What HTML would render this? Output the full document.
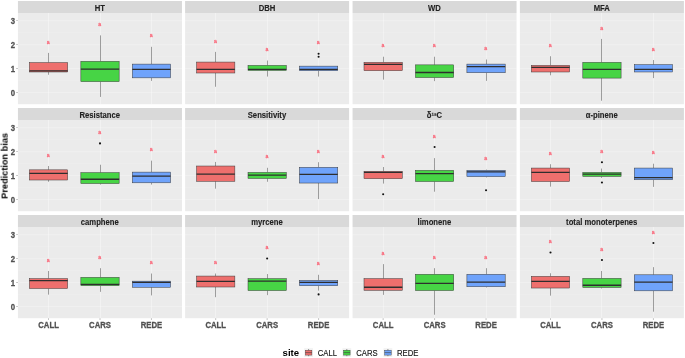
<!DOCTYPE html>
<html><head><meta charset="utf-8"><title>Prediction bias</title>
<style>
html,body{margin:0;padding:0;background:#fff;}
svg{display:block;}
text{font-family:"Liberation Sans","DejaVu Sans",sans-serif;}
.strip{font-size:7.7px;font-weight:bold;fill:#222;text-anchor:middle;stroke:#222;stroke-width:0.1px;}
.ax{font-size:7.75px;font-weight:bold;fill:#505050;stroke:#505050;stroke-width:0.25px;}
.lab{font-size:5.2px;fill:#fb5a6e;stroke:#fb5a6e;stroke-width:0.22px;opacity:0.95;text-anchor:middle;}
.leg{font-size:7.7px;fill:#111;stroke:#111;stroke-width:0.12px;}
</style></head><body>
<svg width="685" height="358" viewBox="0 0 685 358">
<defs><filter id="soft" x="0" y="0" width="685" height="358" filterUnits="userSpaceOnUse" color-interpolation-filters="sRGB"><feGaussianBlur stdDeviation="0.2 0.4"/></filter></defs>
<rect width="685" height="358" fill="#ffffff"/>
<g filter="url(#soft)">
<rect width="685" height="358" fill="#ffffff"/>
<g transform="translate(17.95,13.00)">
<rect x="0" y="-12.00" width="164.0" height="12.0" fill="#d9d9d9"/>
<rect x="0" y="0" width="164.0" height="91.2" fill="#ebebeb"/>
<line x1="0" x2="164.0" y1="19.66" y2="19.66" stroke="#fff" stroke-width="0.35" opacity="0.3"/>
<line x1="0" x2="164.0" y1="43.57" y2="43.57" stroke="#fff" stroke-width="0.35" opacity="0.3"/>
<line x1="0" x2="164.0" y1="67.47" y2="67.47" stroke="#fff" stroke-width="0.35" opacity="0.3"/>
<line x1="0" x2="164.0" y1="7.70" y2="7.70" stroke="#fff" stroke-width="0.8" opacity="0.34"/>
<line x1="0" x2="164.0" y1="31.61" y2="31.61" stroke="#fff" stroke-width="0.8" opacity="0.34"/>
<line x1="0" x2="164.0" y1="55.52" y2="55.52" stroke="#fff" stroke-width="0.8" opacity="0.34"/>
<line x1="0" x2="164.0" y1="79.43" y2="79.43" stroke="#fff" stroke-width="0.8" opacity="0.34"/>
<line y1="0" y2="91.2" x1="30.55" x2="30.55" stroke="#fff" stroke-width="0.7" opacity="0.45"/>
<line y1="0" y2="91.2" x1="82.55" x2="82.55" stroke="#fff" stroke-width="0.7" opacity="0.45"/>
<line y1="0" y2="91.2" x1="133.55" x2="133.55" stroke="#fff" stroke-width="0.7" opacity="0.45"/>
<text class="strip" transform="translate(81.85,-2.3) scale(1,1.1)">HT</text>
<line x1="30.55" x2="30.55" y1="39.92" y2="49.58" stroke="#3a3a3a" stroke-width="0.47"/>
<line x1="30.55" x2="30.55" y1="58.99" y2="61.79" stroke="#3a3a3a" stroke-width="0.47"/>
<rect x="11.45" y="49.58" width="38.30" height="9.41" fill="#EE6F6D" stroke="#3a3a3a" stroke-width="0.5"/>
<line x1="11.45" x2="49.75" y1="57.97" y2="57.97" stroke="#2e2e2e" stroke-width="1.3"/>
<text class="lab" transform="translate(30.30,30.59) scale(1,1.18)">a</text>
<line x1="82.55" x2="82.55" y1="22.38" y2="48.31" stroke="#3a3a3a" stroke-width="0.47"/>
<line x1="82.55" x2="82.55" y1="68.65" y2="83.91" stroke="#3a3a3a" stroke-width="0.47"/>
<rect x="62.90" y="48.31" width="38.30" height="20.34" fill="#47D445" stroke="#3a3a3a" stroke-width="0.5"/>
<line x1="62.90" x2="101.20" y1="56.19" y2="56.19" stroke="#2e2e2e" stroke-width="1.3"/>
<text class="lab" transform="translate(81.75,13.04) scale(1,1.18)">a</text>
<line x1="133.55" x2="133.55" y1="33.82" y2="51.11" stroke="#3a3a3a" stroke-width="0.47"/>
<line x1="133.55" x2="133.55" y1="64.84" y2="67.89" stroke="#3a3a3a" stroke-width="0.47"/>
<rect x="114.35" y="51.11" width="38.30" height="13.73" fill="#6FA3FB" stroke="#3a3a3a" stroke-width="0.5"/>
<line x1="114.35" x2="152.65" y1="56.45" y2="56.45" stroke="#2e2e2e" stroke-width="1.3"/>
<text class="lab" transform="translate(133.20,24.48) scale(1,1.18)">a</text>
<line x1="-1.8" x2="0" y1="7.70" y2="7.70" stroke="#333" stroke-width="0.5" opacity="0.6"/>
<text class="ax" text-anchor="end" transform="translate(-3,11.40) scale(1,1.1)">3</text>
<line x1="-1.8" x2="0" y1="31.61" y2="31.61" stroke="#333" stroke-width="0.5" opacity="0.6"/>
<text class="ax" text-anchor="end" transform="translate(-3,35.31) scale(1,1.1)">2</text>
<line x1="-1.8" x2="0" y1="55.52" y2="55.52" stroke="#333" stroke-width="0.5" opacity="0.6"/>
<text class="ax" text-anchor="end" transform="translate(-3,59.22) scale(1,1.1)">1</text>
<line x1="-1.8" x2="0" y1="79.43" y2="79.43" stroke="#333" stroke-width="0.5" opacity="0.6"/>
<text class="ax" text-anchor="end" transform="translate(-3,83.13) scale(1,1.1)">0</text>
</g>
<g transform="translate(185.10,13.00)">
<rect x="0" y="-12.00" width="164.0" height="12.0" fill="#d9d9d9"/>
<rect x="0" y="0" width="164.0" height="91.2" fill="#ebebeb"/>
<line x1="0" x2="164.0" y1="19.66" y2="19.66" stroke="#fff" stroke-width="0.35" opacity="0.3"/>
<line x1="0" x2="164.0" y1="43.57" y2="43.57" stroke="#fff" stroke-width="0.35" opacity="0.3"/>
<line x1="0" x2="164.0" y1="67.47" y2="67.47" stroke="#fff" stroke-width="0.35" opacity="0.3"/>
<line x1="0" x2="164.0" y1="7.70" y2="7.70" stroke="#fff" stroke-width="0.8" opacity="0.34"/>
<line x1="0" x2="164.0" y1="31.61" y2="31.61" stroke="#fff" stroke-width="0.8" opacity="0.34"/>
<line x1="0" x2="164.0" y1="55.52" y2="55.52" stroke="#fff" stroke-width="0.8" opacity="0.34"/>
<line x1="0" x2="164.0" y1="79.43" y2="79.43" stroke="#fff" stroke-width="0.8" opacity="0.34"/>
<line y1="0" y2="91.2" x1="30.40" x2="30.40" stroke="#fff" stroke-width="0.7" opacity="0.45"/>
<line y1="0" y2="91.2" x1="82.40" x2="82.40" stroke="#fff" stroke-width="0.7" opacity="0.45"/>
<line y1="0" y2="91.2" x1="133.40" x2="133.40" stroke="#fff" stroke-width="0.7" opacity="0.45"/>
<text class="strip" transform="translate(81.85,-2.3) scale(1,1.1)">DBH</text>
<line x1="30.40" x2="30.40" y1="38.90" y2="49.07" stroke="#3a3a3a" stroke-width="0.47"/>
<line x1="30.40" x2="30.40" y1="60.01" y2="73.74" stroke="#3a3a3a" stroke-width="0.47"/>
<rect x="11.45" y="49.07" width="38.30" height="10.93" fill="#EE6F6D" stroke="#3a3a3a" stroke-width="0.5"/>
<line x1="11.45" x2="49.75" y1="56.45" y2="56.45" stroke="#2e2e2e" stroke-width="1.3"/>
<text class="lab" transform="translate(30.30,29.57) scale(1,1.18)">a</text>
<line x1="82.40" x2="82.40" y1="47.55" y2="52.38" stroke="#3a3a3a" stroke-width="0.47"/>
<line x1="82.40" x2="82.40" y1="57.46" y2="63.57" stroke="#3a3a3a" stroke-width="0.47"/>
<rect x="62.90" y="52.38" width="38.30" height="5.09" fill="#47D445" stroke="#3a3a3a" stroke-width="0.5"/>
<line x1="62.90" x2="101.20" y1="56.45" y2="56.45" stroke="#2e2e2e" stroke-width="1.3"/>
<text class="lab" transform="translate(81.75,38.21) scale(1,1.18)">a</text>
<line x1="133.40" x2="133.40" y1="57.72" y2="63.57" stroke="#3a3a3a" stroke-width="0.47"/>
<rect x="114.35" y="53.14" width="38.30" height="4.58" fill="#6FA3FB" stroke="#3a3a3a" stroke-width="0.5"/>
<line x1="114.35" x2="152.65" y1="56.45" y2="56.45" stroke="#2e2e2e" stroke-width="1.3"/>
<circle cx="133.50" cy="40.68" r="1.05" fill="#111"/>
<circle cx="133.50" cy="43.73" r="1.05" fill="#111"/>
<text class="lab" transform="translate(133.20,31.35) scale(1,1.18)">a</text>
</g>
<g transform="translate(352.55,13.00)">
<rect x="0" y="-12.00" width="164.0" height="12.0" fill="#d9d9d9"/>
<rect x="0" y="0" width="164.0" height="91.2" fill="#ebebeb"/>
<line x1="0" x2="164.0" y1="19.66" y2="19.66" stroke="#fff" stroke-width="0.35" opacity="0.3"/>
<line x1="0" x2="164.0" y1="43.57" y2="43.57" stroke="#fff" stroke-width="0.35" opacity="0.3"/>
<line x1="0" x2="164.0" y1="67.47" y2="67.47" stroke="#fff" stroke-width="0.35" opacity="0.3"/>
<line x1="0" x2="164.0" y1="7.70" y2="7.70" stroke="#fff" stroke-width="0.8" opacity="0.34"/>
<line x1="0" x2="164.0" y1="31.61" y2="31.61" stroke="#fff" stroke-width="0.8" opacity="0.34"/>
<line x1="0" x2="164.0" y1="55.52" y2="55.52" stroke="#fff" stroke-width="0.8" opacity="0.34"/>
<line x1="0" x2="164.0" y1="79.43" y2="79.43" stroke="#fff" stroke-width="0.8" opacity="0.34"/>
<line y1="0" y2="91.2" x1="30.95" x2="30.95" stroke="#fff" stroke-width="0.7" opacity="0.45"/>
<line y1="0" y2="91.2" x1="81.95" x2="81.95" stroke="#fff" stroke-width="0.7" opacity="0.45"/>
<line y1="0" y2="91.2" x1="133.95" x2="133.95" stroke="#fff" stroke-width="0.7" opacity="0.45"/>
<text class="strip" transform="translate(81.85,-2.3) scale(1,1.1)">WD</text>
<line x1="30.95" x2="30.95" y1="43.73" y2="49.33" stroke="#3a3a3a" stroke-width="0.47"/>
<line x1="30.95" x2="30.95" y1="57.72" y2="66.62" stroke="#3a3a3a" stroke-width="0.47"/>
<rect x="11.45" y="49.33" width="38.30" height="8.39" fill="#EE6F6D" stroke="#3a3a3a" stroke-width="0.5"/>
<line x1="11.45" x2="49.75" y1="51.36" y2="51.36" stroke="#2e2e2e" stroke-width="1.3"/>
<text class="lab" transform="translate(30.30,34.40) scale(1,1.18)">a</text>
<line x1="81.95" x2="81.95" y1="43.73" y2="51.87" stroke="#3a3a3a" stroke-width="0.47"/>
<line x1="81.95" x2="81.95" y1="64.58" y2="68.14" stroke="#3a3a3a" stroke-width="0.47"/>
<rect x="62.90" y="51.87" width="38.30" height="12.71" fill="#47D445" stroke="#3a3a3a" stroke-width="0.5"/>
<line x1="62.90" x2="101.20" y1="59.50" y2="59.50" stroke="#2e2e2e" stroke-width="1.3"/>
<text class="lab" transform="translate(81.75,34.40) scale(1,1.18)">a</text>
<line x1="133.95" x2="133.95" y1="46.53" y2="51.11" stroke="#3a3a3a" stroke-width="0.47"/>
<line x1="133.95" x2="133.95" y1="59.75" y2="67.89" stroke="#3a3a3a" stroke-width="0.47"/>
<rect x="114.35" y="51.11" width="38.30" height="8.64" fill="#6FA3FB" stroke="#3a3a3a" stroke-width="0.5"/>
<line x1="114.35" x2="152.65" y1="53.65" y2="53.65" stroke="#2e2e2e" stroke-width="1.3"/>
<text class="lab" transform="translate(133.20,37.20) scale(1,1.18)">a</text>
</g>
<g transform="translate(519.90,13.00)">
<rect x="0" y="-12.00" width="164.0" height="12.0" fill="#d9d9d9"/>
<rect x="0" y="0" width="164.0" height="91.2" fill="#ebebeb"/>
<line x1="0" x2="164.0" y1="19.66" y2="19.66" stroke="#fff" stroke-width="0.35" opacity="0.3"/>
<line x1="0" x2="164.0" y1="43.57" y2="43.57" stroke="#fff" stroke-width="0.35" opacity="0.3"/>
<line x1="0" x2="164.0" y1="67.47" y2="67.47" stroke="#fff" stroke-width="0.35" opacity="0.3"/>
<line x1="0" x2="164.0" y1="7.70" y2="7.70" stroke="#fff" stroke-width="0.8" opacity="0.34"/>
<line x1="0" x2="164.0" y1="31.61" y2="31.61" stroke="#fff" stroke-width="0.8" opacity="0.34"/>
<line x1="0" x2="164.0" y1="55.52" y2="55.52" stroke="#fff" stroke-width="0.8" opacity="0.34"/>
<line x1="0" x2="164.0" y1="79.43" y2="79.43" stroke="#fff" stroke-width="0.8" opacity="0.34"/>
<line y1="0" y2="91.2" x1="30.60" x2="30.60" stroke="#fff" stroke-width="0.7" opacity="0.45"/>
<line y1="0" y2="91.2" x1="81.60" x2="81.60" stroke="#fff" stroke-width="0.7" opacity="0.45"/>
<line y1="0" y2="91.2" x1="133.60" x2="133.60" stroke="#fff" stroke-width="0.7" opacity="0.45"/>
<text class="strip" transform="translate(81.85,-2.3) scale(1,1.1)">MFA</text>
<line x1="30.60" x2="30.60" y1="43.22" y2="52.38" stroke="#3a3a3a" stroke-width="0.47"/>
<line x1="30.60" x2="30.60" y1="58.99" y2="62.29" stroke="#3a3a3a" stroke-width="0.47"/>
<rect x="11.45" y="52.38" width="38.30" height="6.61" fill="#EE6F6D" stroke="#3a3a3a" stroke-width="0.5"/>
<line x1="11.45" x2="49.75" y1="54.41" y2="54.41" stroke="#2e2e2e" stroke-width="1.3"/>
<text class="lab" transform="translate(30.30,33.89) scale(1,1.18)">a</text>
<line x1="81.60" x2="81.60" y1="25.93" y2="49.33" stroke="#3a3a3a" stroke-width="0.47"/>
<line x1="81.60" x2="81.60" y1="65.09" y2="87.72" stroke="#3a3a3a" stroke-width="0.47"/>
<rect x="62.90" y="49.33" width="38.30" height="15.76" fill="#47D445" stroke="#3a3a3a" stroke-width="0.5"/>
<line x1="62.90" x2="101.20" y1="56.45" y2="56.45" stroke="#2e2e2e" stroke-width="1.3"/>
<text class="lab" transform="translate(81.75,16.60) scale(1,1.18)">a</text>
<line x1="133.60" x2="133.60" y1="47.04" y2="51.62" stroke="#3a3a3a" stroke-width="0.47"/>
<line x1="133.60" x2="133.60" y1="58.99" y2="65.09" stroke="#3a3a3a" stroke-width="0.47"/>
<rect x="114.35" y="51.62" width="38.30" height="7.37" fill="#6FA3FB" stroke="#3a3a3a" stroke-width="0.5"/>
<line x1="114.35" x2="152.65" y1="56.45" y2="56.45" stroke="#2e2e2e" stroke-width="1.3"/>
<text class="lab" transform="translate(133.20,37.71) scale(1,1.18)">a</text>
</g>
<g transform="translate(17.95,120.00)">
<rect x="0" y="-12.00" width="164.0" height="12.0" fill="#d9d9d9"/>
<rect x="0" y="0" width="164.0" height="91.2" fill="#ebebeb"/>
<line x1="0" x2="164.0" y1="19.66" y2="19.66" stroke="#fff" stroke-width="0.35" opacity="0.3"/>
<line x1="0" x2="164.0" y1="43.57" y2="43.57" stroke="#fff" stroke-width="0.35" opacity="0.3"/>
<line x1="0" x2="164.0" y1="67.47" y2="67.47" stroke="#fff" stroke-width="0.35" opacity="0.3"/>
<line x1="0" x2="164.0" y1="7.70" y2="7.70" stroke="#fff" stroke-width="0.8" opacity="0.34"/>
<line x1="0" x2="164.0" y1="31.61" y2="31.61" stroke="#fff" stroke-width="0.8" opacity="0.34"/>
<line x1="0" x2="164.0" y1="55.52" y2="55.52" stroke="#fff" stroke-width="0.8" opacity="0.34"/>
<line x1="0" x2="164.0" y1="79.43" y2="79.43" stroke="#fff" stroke-width="0.8" opacity="0.34"/>
<line y1="0" y2="91.2" x1="30.55" x2="30.55" stroke="#fff" stroke-width="0.7" opacity="0.45"/>
<line y1="0" y2="91.2" x1="82.55" x2="82.55" stroke="#fff" stroke-width="0.7" opacity="0.45"/>
<line y1="0" y2="91.2" x1="133.55" x2="133.55" stroke="#fff" stroke-width="0.7" opacity="0.45"/>
<text class="strip" transform="translate(81.85,-2.3) scale(1,1.1)">Resistance</text>
<line x1="30.55" x2="30.55" y1="46.02" y2="49.84" stroke="#3a3a3a" stroke-width="0.47"/>
<line x1="30.55" x2="30.55" y1="60.01" y2="61.79" stroke="#3a3a3a" stroke-width="0.47"/>
<rect x="11.45" y="49.84" width="38.30" height="10.17" fill="#EE6F6D" stroke="#3a3a3a" stroke-width="0.5"/>
<line x1="11.45" x2="49.75" y1="53.40" y2="53.40" stroke="#2e2e2e" stroke-width="1.3"/>
<text class="lab" transform="translate(30.30,36.69) scale(1,1.18)">a</text>
<line x1="82.55" x2="82.55" y1="44.75" y2="52.63" stroke="#3a3a3a" stroke-width="0.47"/>
<line x1="82.55" x2="82.55" y1="63.57" y2="64.58" stroke="#3a3a3a" stroke-width="0.47"/>
<rect x="62.90" y="52.63" width="38.30" height="10.93" fill="#47D445" stroke="#3a3a3a" stroke-width="0.5"/>
<line x1="62.90" x2="101.20" y1="59.24" y2="59.24" stroke="#2e2e2e" stroke-width="1.3"/>
<circle cx="82.05" cy="23.39" r="1.05" fill="#111"/>
<text class="lab" transform="translate(81.75,14.06) scale(1,1.18)">a</text>
<line x1="133.55" x2="133.55" y1="40.68" y2="52.12" stroke="#3a3a3a" stroke-width="0.47"/>
<line x1="133.55" x2="133.55" y1="62.80" y2="64.58" stroke="#3a3a3a" stroke-width="0.47"/>
<rect x="114.35" y="52.12" width="38.30" height="10.68" fill="#6FA3FB" stroke="#3a3a3a" stroke-width="0.5"/>
<line x1="114.35" x2="152.65" y1="56.19" y2="56.19" stroke="#2e2e2e" stroke-width="1.3"/>
<text class="lab" transform="translate(133.20,31.35) scale(1,1.18)">a</text>
<line x1="-1.8" x2="0" y1="7.70" y2="7.70" stroke="#333" stroke-width="0.5" opacity="0.6"/>
<text class="ax" text-anchor="end" transform="translate(-3,11.40) scale(1,1.1)">3</text>
<line x1="-1.8" x2="0" y1="31.61" y2="31.61" stroke="#333" stroke-width="0.5" opacity="0.6"/>
<text class="ax" text-anchor="end" transform="translate(-3,35.31) scale(1,1.1)">2</text>
<line x1="-1.8" x2="0" y1="55.52" y2="55.52" stroke="#333" stroke-width="0.5" opacity="0.6"/>
<text class="ax" text-anchor="end" transform="translate(-3,59.22) scale(1,1.1)">1</text>
<line x1="-1.8" x2="0" y1="79.43" y2="79.43" stroke="#333" stroke-width="0.5" opacity="0.6"/>
<text class="ax" text-anchor="end" transform="translate(-3,83.13) scale(1,1.1)">0</text>
</g>
<g transform="translate(185.10,120.00)">
<rect x="0" y="-12.00" width="164.0" height="12.0" fill="#d9d9d9"/>
<rect x="0" y="0" width="164.0" height="91.2" fill="#ebebeb"/>
<line x1="0" x2="164.0" y1="19.66" y2="19.66" stroke="#fff" stroke-width="0.35" opacity="0.3"/>
<line x1="0" x2="164.0" y1="43.57" y2="43.57" stroke="#fff" stroke-width="0.35" opacity="0.3"/>
<line x1="0" x2="164.0" y1="67.47" y2="67.47" stroke="#fff" stroke-width="0.35" opacity="0.3"/>
<line x1="0" x2="164.0" y1="7.70" y2="7.70" stroke="#fff" stroke-width="0.8" opacity="0.34"/>
<line x1="0" x2="164.0" y1="31.61" y2="31.61" stroke="#fff" stroke-width="0.8" opacity="0.34"/>
<line x1="0" x2="164.0" y1="55.52" y2="55.52" stroke="#fff" stroke-width="0.8" opacity="0.34"/>
<line x1="0" x2="164.0" y1="79.43" y2="79.43" stroke="#fff" stroke-width="0.8" opacity="0.34"/>
<line y1="0" y2="91.2" x1="30.40" x2="30.40" stroke="#fff" stroke-width="0.7" opacity="0.45"/>
<line y1="0" y2="91.2" x1="82.40" x2="82.40" stroke="#fff" stroke-width="0.7" opacity="0.45"/>
<line y1="0" y2="91.2" x1="133.40" x2="133.40" stroke="#fff" stroke-width="0.7" opacity="0.45"/>
<text class="strip" transform="translate(81.85,-2.3) scale(1,1.1)">Sensitivity</text>
<line x1="30.40" x2="30.40" y1="41.95" y2="46.02" stroke="#3a3a3a" stroke-width="0.47"/>
<line x1="30.40" x2="30.40" y1="61.28" y2="68.65" stroke="#3a3a3a" stroke-width="0.47"/>
<rect x="11.45" y="46.02" width="38.30" height="15.26" fill="#EE6F6D" stroke="#3a3a3a" stroke-width="0.5"/>
<line x1="11.45" x2="49.75" y1="54.16" y2="54.16" stroke="#2e2e2e" stroke-width="1.3"/>
<text class="lab" transform="translate(30.30,32.62) scale(1,1.18)">a</text>
<line x1="82.40" x2="82.40" y1="47.80" y2="52.38" stroke="#3a3a3a" stroke-width="0.47"/>
<line x1="82.40" x2="82.40" y1="58.48" y2="61.79" stroke="#3a3a3a" stroke-width="0.47"/>
<rect x="62.90" y="52.38" width="38.30" height="6.10" fill="#47D445" stroke="#3a3a3a" stroke-width="0.5"/>
<line x1="62.90" x2="101.20" y1="55.18" y2="55.18" stroke="#2e2e2e" stroke-width="1.3"/>
<text class="lab" transform="translate(81.75,38.47) scale(1,1.18)">a</text>
<line x1="133.40" x2="133.40" y1="42.21" y2="47.29" stroke="#3a3a3a" stroke-width="0.47"/>
<line x1="133.40" x2="133.40" y1="63.06" y2="79.08" stroke="#3a3a3a" stroke-width="0.47"/>
<rect x="114.35" y="47.29" width="38.30" height="15.76" fill="#6FA3FB" stroke="#3a3a3a" stroke-width="0.5"/>
<line x1="114.35" x2="152.65" y1="54.41" y2="54.41" stroke="#2e2e2e" stroke-width="1.3"/>
<text class="lab" transform="translate(133.20,32.87) scale(1,1.18)">a</text>
</g>
<g transform="translate(352.55,120.00)">
<rect x="0" y="-12.00" width="164.0" height="12.0" fill="#d9d9d9"/>
<rect x="0" y="0" width="164.0" height="91.2" fill="#ebebeb"/>
<line x1="0" x2="164.0" y1="19.66" y2="19.66" stroke="#fff" stroke-width="0.35" opacity="0.3"/>
<line x1="0" x2="164.0" y1="43.57" y2="43.57" stroke="#fff" stroke-width="0.35" opacity="0.3"/>
<line x1="0" x2="164.0" y1="67.47" y2="67.47" stroke="#fff" stroke-width="0.35" opacity="0.3"/>
<line x1="0" x2="164.0" y1="7.70" y2="7.70" stroke="#fff" stroke-width="0.8" opacity="0.34"/>
<line x1="0" x2="164.0" y1="31.61" y2="31.61" stroke="#fff" stroke-width="0.8" opacity="0.34"/>
<line x1="0" x2="164.0" y1="55.52" y2="55.52" stroke="#fff" stroke-width="0.8" opacity="0.34"/>
<line x1="0" x2="164.0" y1="79.43" y2="79.43" stroke="#fff" stroke-width="0.8" opacity="0.34"/>
<line y1="0" y2="91.2" x1="30.95" x2="30.95" stroke="#fff" stroke-width="0.7" opacity="0.45"/>
<line y1="0" y2="91.2" x1="81.95" x2="81.95" stroke="#fff" stroke-width="0.7" opacity="0.45"/>
<line y1="0" y2="91.2" x1="133.95" x2="133.95" stroke="#fff" stroke-width="0.7" opacity="0.45"/>
<text class="strip" transform="translate(81.85,-2.3) scale(1,1.1)">δ¹³C</text>
<line x1="30.95" x2="30.95" y1="47.04" y2="51.36" stroke="#3a3a3a" stroke-width="0.47"/>
<line x1="30.95" x2="30.95" y1="58.73" y2="63.57" stroke="#3a3a3a" stroke-width="0.47"/>
<rect x="11.45" y="51.36" width="38.30" height="7.37" fill="#EE6F6D" stroke="#3a3a3a" stroke-width="0.5"/>
<line x1="11.45" x2="49.75" y1="52.38" y2="52.38" stroke="#2e2e2e" stroke-width="1.3"/>
<circle cx="30.60" cy="74.24" r="1.05" fill="#111"/>
<text class="lab" transform="translate(30.30,37.71) scale(1,1.18)">a</text>
<line x1="81.95" x2="81.95" y1="38.14" y2="50.34" stroke="#3a3a3a" stroke-width="0.47"/>
<line x1="81.95" x2="81.95" y1="61.53" y2="71.70" stroke="#3a3a3a" stroke-width="0.47"/>
<rect x="62.90" y="50.34" width="38.30" height="11.19" fill="#47D445" stroke="#3a3a3a" stroke-width="0.5"/>
<line x1="62.90" x2="101.20" y1="53.65" y2="53.65" stroke="#2e2e2e" stroke-width="1.3"/>
<circle cx="82.05" cy="26.95" r="1.05" fill="#111"/>
<text class="lab" transform="translate(81.75,17.62) scale(1,1.18)">a</text>
<line x1="133.95" x2="133.95" y1="49.58" y2="50.34" stroke="#3a3a3a" stroke-width="0.47"/>
<line x1="133.95" x2="133.95" y1="56.70" y2="57.46" stroke="#3a3a3a" stroke-width="0.47"/>
<rect x="114.35" y="50.34" width="38.30" height="6.36" fill="#6FA3FB" stroke="#3a3a3a" stroke-width="0.5"/>
<line x1="114.35" x2="152.65" y1="51.87" y2="51.87" stroke="#2e2e2e" stroke-width="1.3"/>
<circle cx="133.50" cy="70.18" r="1.05" fill="#111"/>
<text class="lab" transform="translate(133.20,40.25) scale(1,1.18)">a</text>
</g>
<g transform="translate(519.90,120.00)">
<rect x="0" y="-12.00" width="164.0" height="12.0" fill="#d9d9d9"/>
<rect x="0" y="0" width="164.0" height="91.2" fill="#ebebeb"/>
<line x1="0" x2="164.0" y1="19.66" y2="19.66" stroke="#fff" stroke-width="0.35" opacity="0.3"/>
<line x1="0" x2="164.0" y1="43.57" y2="43.57" stroke="#fff" stroke-width="0.35" opacity="0.3"/>
<line x1="0" x2="164.0" y1="67.47" y2="67.47" stroke="#fff" stroke-width="0.35" opacity="0.3"/>
<line x1="0" x2="164.0" y1="7.70" y2="7.70" stroke="#fff" stroke-width="0.8" opacity="0.34"/>
<line x1="0" x2="164.0" y1="31.61" y2="31.61" stroke="#fff" stroke-width="0.8" opacity="0.34"/>
<line x1="0" x2="164.0" y1="55.52" y2="55.52" stroke="#fff" stroke-width="0.8" opacity="0.34"/>
<line x1="0" x2="164.0" y1="79.43" y2="79.43" stroke="#fff" stroke-width="0.8" opacity="0.34"/>
<line y1="0" y2="91.2" x1="30.60" x2="30.60" stroke="#fff" stroke-width="0.7" opacity="0.45"/>
<line y1="0" y2="91.2" x1="81.60" x2="81.60" stroke="#fff" stroke-width="0.7" opacity="0.45"/>
<line y1="0" y2="91.2" x1="133.60" x2="133.60" stroke="#fff" stroke-width="0.7" opacity="0.45"/>
<text class="strip" transform="translate(81.85,-2.3) scale(1,1.1)">α-pinene</text>
<line x1="30.60" x2="30.60" y1="44.24" y2="48.06" stroke="#3a3a3a" stroke-width="0.47"/>
<line x1="30.60" x2="30.60" y1="61.53" y2="66.62" stroke="#3a3a3a" stroke-width="0.47"/>
<rect x="11.45" y="48.06" width="38.30" height="13.48" fill="#EE6F6D" stroke="#3a3a3a" stroke-width="0.5"/>
<line x1="11.45" x2="49.75" y1="52.38" y2="52.38" stroke="#2e2e2e" stroke-width="1.3"/>
<text class="lab" transform="translate(30.30,34.91) scale(1,1.18)">a</text>
<line x1="81.60" x2="81.60" y1="48.56" y2="52.38" stroke="#3a3a3a" stroke-width="0.47"/>
<line x1="81.60" x2="81.60" y1="56.45" y2="57.97" stroke="#3a3a3a" stroke-width="0.47"/>
<rect x="62.90" y="52.38" width="38.30" height="4.07" fill="#47D445" stroke="#3a3a3a" stroke-width="0.5"/>
<line x1="62.90" x2="101.20" y1="54.16" y2="54.16" stroke="#2e2e2e" stroke-width="1.3"/>
<circle cx="82.05" cy="42.21" r="1.05" fill="#111"/>
<circle cx="82.05" cy="62.55" r="1.05" fill="#111"/>
<text class="lab" transform="translate(81.75,32.87) scale(1,1.18)">a</text>
<line x1="133.60" x2="133.60" y1="43.73" y2="48.06" stroke="#3a3a3a" stroke-width="0.47"/>
<line x1="133.60" x2="133.60" y1="59.75" y2="66.87" stroke="#3a3a3a" stroke-width="0.47"/>
<rect x="114.35" y="48.06" width="38.30" height="11.70" fill="#6FA3FB" stroke="#3a3a3a" stroke-width="0.5"/>
<line x1="114.35" x2="152.65" y1="57.72" y2="57.72" stroke="#2e2e2e" stroke-width="1.3"/>
<text class="lab" transform="translate(133.20,34.40) scale(1,1.18)">a</text>
</g>
<g transform="translate(17.95,227.00)">
<rect x="0" y="-12.00" width="164.0" height="12.0" fill="#d9d9d9"/>
<rect x="0" y="0" width="164.0" height="91.2" fill="#ebebeb"/>
<line x1="0" x2="164.0" y1="19.66" y2="19.66" stroke="#fff" stroke-width="0.35" opacity="0.3"/>
<line x1="0" x2="164.0" y1="43.57" y2="43.57" stroke="#fff" stroke-width="0.35" opacity="0.3"/>
<line x1="0" x2="164.0" y1="67.47" y2="67.47" stroke="#fff" stroke-width="0.35" opacity="0.3"/>
<line x1="0" x2="164.0" y1="7.70" y2="7.70" stroke="#fff" stroke-width="0.8" opacity="0.34"/>
<line x1="0" x2="164.0" y1="31.61" y2="31.61" stroke="#fff" stroke-width="0.8" opacity="0.34"/>
<line x1="0" x2="164.0" y1="55.52" y2="55.52" stroke="#fff" stroke-width="0.8" opacity="0.34"/>
<line x1="0" x2="164.0" y1="79.43" y2="79.43" stroke="#fff" stroke-width="0.8" opacity="0.34"/>
<line y1="0" y2="91.2" x1="30.55" x2="30.55" stroke="#fff" stroke-width="0.7" opacity="0.45"/>
<line y1="0" y2="91.2" x1="82.55" x2="82.55" stroke="#fff" stroke-width="0.7" opacity="0.45"/>
<line y1="0" y2="91.2" x1="133.55" x2="133.55" stroke="#fff" stroke-width="0.7" opacity="0.45"/>
<text class="strip" transform="translate(81.85,-2.3) scale(1,1.1)">camphene</text>
<line x1="30.55" x2="30.55" y1="43.99" y2="51.62" stroke="#3a3a3a" stroke-width="0.47"/>
<line x1="30.55" x2="30.55" y1="61.53" y2="67.63" stroke="#3a3a3a" stroke-width="0.47"/>
<rect x="11.45" y="51.62" width="38.30" height="9.92" fill="#EE6F6D" stroke="#3a3a3a" stroke-width="0.5"/>
<line x1="11.45" x2="49.75" y1="53.65" y2="53.65" stroke="#2e2e2e" stroke-width="1.3"/>
<text class="lab" transform="translate(30.30,34.65) scale(1,1.18)">a</text>
<line x1="82.55" x2="82.55" y1="41.19" y2="50.34" stroke="#3a3a3a" stroke-width="0.47"/>
<line x1="82.55" x2="82.55" y1="58.73" y2="64.84" stroke="#3a3a3a" stroke-width="0.47"/>
<rect x="62.90" y="50.34" width="38.30" height="8.39" fill="#47D445" stroke="#3a3a3a" stroke-width="0.5"/>
<line x1="62.90" x2="101.20" y1="57.46" y2="57.46" stroke="#2e2e2e" stroke-width="1.3"/>
<text class="lab" transform="translate(81.75,31.86) scale(1,1.18)">a</text>
<line x1="133.55" x2="133.55" y1="46.53" y2="54.16" stroke="#3a3a3a" stroke-width="0.47"/>
<line x1="133.55" x2="133.55" y1="60.26" y2="68.40" stroke="#3a3a3a" stroke-width="0.47"/>
<rect x="114.35" y="54.16" width="38.30" height="6.10" fill="#6FA3FB" stroke="#3a3a3a" stroke-width="0.5"/>
<line x1="114.35" x2="152.65" y1="55.43" y2="55.43" stroke="#2e2e2e" stroke-width="1.3"/>
<text class="lab" transform="translate(133.20,37.20) scale(1,1.18)">a</text>
<line x1="-1.8" x2="0" y1="7.70" y2="7.70" stroke="#333" stroke-width="0.5" opacity="0.6"/>
<text class="ax" text-anchor="end" transform="translate(-3,11.40) scale(1,1.1)">3</text>
<line x1="-1.8" x2="0" y1="31.61" y2="31.61" stroke="#333" stroke-width="0.5" opacity="0.6"/>
<text class="ax" text-anchor="end" transform="translate(-3,35.31) scale(1,1.1)">2</text>
<line x1="-1.8" x2="0" y1="55.52" y2="55.52" stroke="#333" stroke-width="0.5" opacity="0.6"/>
<text class="ax" text-anchor="end" transform="translate(-3,59.22) scale(1,1.1)">1</text>
<line x1="-1.8" x2="0" y1="79.43" y2="79.43" stroke="#333" stroke-width="0.5" opacity="0.6"/>
<text class="ax" text-anchor="end" transform="translate(-3,83.13) scale(1,1.1)">0</text>
<line y1="91.2" y2="93.0" x1="30.60" x2="30.60" stroke="#333" stroke-width="0.5" opacity="0.6"/>
<text class="ax" text-anchor="middle" transform="translate(30.60,101.40) scale(1,1.1)">CALL</text>
<line y1="91.2" y2="93.0" x1="82.05" x2="82.05" stroke="#333" stroke-width="0.5" opacity="0.6"/>
<text class="ax" text-anchor="middle" transform="translate(82.05,101.40) scale(1,1.1)">CARS</text>
<line y1="91.2" y2="93.0" x1="133.50" x2="133.50" stroke="#333" stroke-width="0.5" opacity="0.6"/>
<text class="ax" text-anchor="middle" transform="translate(133.50,101.40) scale(1,1.1)">REDE</text>
</g>
<g transform="translate(185.10,227.00)">
<rect x="0" y="-12.00" width="164.0" height="12.0" fill="#d9d9d9"/>
<rect x="0" y="0" width="164.0" height="91.2" fill="#ebebeb"/>
<line x1="0" x2="164.0" y1="19.66" y2="19.66" stroke="#fff" stroke-width="0.35" opacity="0.3"/>
<line x1="0" x2="164.0" y1="43.57" y2="43.57" stroke="#fff" stroke-width="0.35" opacity="0.3"/>
<line x1="0" x2="164.0" y1="67.47" y2="67.47" stroke="#fff" stroke-width="0.35" opacity="0.3"/>
<line x1="0" x2="164.0" y1="7.70" y2="7.70" stroke="#fff" stroke-width="0.8" opacity="0.34"/>
<line x1="0" x2="164.0" y1="31.61" y2="31.61" stroke="#fff" stroke-width="0.8" opacity="0.34"/>
<line x1="0" x2="164.0" y1="55.52" y2="55.52" stroke="#fff" stroke-width="0.8" opacity="0.34"/>
<line x1="0" x2="164.0" y1="79.43" y2="79.43" stroke="#fff" stroke-width="0.8" opacity="0.34"/>
<line y1="0" y2="91.2" x1="30.40" x2="30.40" stroke="#fff" stroke-width="0.7" opacity="0.45"/>
<line y1="0" y2="91.2" x1="82.40" x2="82.40" stroke="#fff" stroke-width="0.7" opacity="0.45"/>
<line y1="0" y2="91.2" x1="133.40" x2="133.40" stroke="#fff" stroke-width="0.7" opacity="0.45"/>
<text class="strip" transform="translate(81.85,-2.3) scale(1,1.1)">myrcene</text>
<line x1="30.40" x2="30.40" y1="46.53" y2="49.07" stroke="#3a3a3a" stroke-width="0.47"/>
<line x1="30.40" x2="30.40" y1="60.01" y2="70.18" stroke="#3a3a3a" stroke-width="0.47"/>
<rect x="11.45" y="49.07" width="38.30" height="10.93" fill="#EE6F6D" stroke="#3a3a3a" stroke-width="0.5"/>
<line x1="11.45" x2="49.75" y1="54.41" y2="54.41" stroke="#2e2e2e" stroke-width="1.3"/>
<text class="lab" transform="translate(30.30,37.20) scale(1,1.18)">a</text>
<line x1="82.40" x2="82.40" y1="47.04" y2="51.62" stroke="#3a3a3a" stroke-width="0.47"/>
<line x1="82.40" x2="82.40" y1="63.57" y2="68.14" stroke="#3a3a3a" stroke-width="0.47"/>
<rect x="62.90" y="51.62" width="38.30" height="11.95" fill="#47D445" stroke="#3a3a3a" stroke-width="0.5"/>
<line x1="62.90" x2="101.20" y1="54.16" y2="54.16" stroke="#2e2e2e" stroke-width="1.3"/>
<circle cx="82.05" cy="31.53" r="1.05" fill="#111"/>
<text class="lab" transform="translate(81.75,22.20) scale(1,1.18)">a</text>
<line x1="133.40" x2="133.40" y1="47.80" y2="53.40" stroke="#3a3a3a" stroke-width="0.47"/>
<line x1="133.40" x2="133.40" y1="58.73" y2="63.57" stroke="#3a3a3a" stroke-width="0.47"/>
<rect x="114.35" y="53.40" width="38.30" height="5.34" fill="#6FA3FB" stroke="#3a3a3a" stroke-width="0.5"/>
<line x1="114.35" x2="152.65" y1="55.43" y2="55.43" stroke="#2e2e2e" stroke-width="1.3"/>
<circle cx="133.50" cy="67.38" r="1.05" fill="#111"/>
<text class="lab" transform="translate(133.20,38.47) scale(1,1.18)">a</text>
<line y1="91.2" y2="93.0" x1="30.60" x2="30.60" stroke="#333" stroke-width="0.5" opacity="0.6"/>
<text class="ax" text-anchor="middle" transform="translate(30.60,101.40) scale(1,1.1)">CALL</text>
<line y1="91.2" y2="93.0" x1="82.05" x2="82.05" stroke="#333" stroke-width="0.5" opacity="0.6"/>
<text class="ax" text-anchor="middle" transform="translate(82.05,101.40) scale(1,1.1)">CARS</text>
<line y1="91.2" y2="93.0" x1="133.50" x2="133.50" stroke="#333" stroke-width="0.5" opacity="0.6"/>
<text class="ax" text-anchor="middle" transform="translate(133.50,101.40) scale(1,1.1)">REDE</text>
</g>
<g transform="translate(352.55,227.00)">
<rect x="0" y="-12.00" width="164.0" height="12.0" fill="#d9d9d9"/>
<rect x="0" y="0" width="164.0" height="91.2" fill="#ebebeb"/>
<line x1="0" x2="164.0" y1="19.66" y2="19.66" stroke="#fff" stroke-width="0.35" opacity="0.3"/>
<line x1="0" x2="164.0" y1="43.57" y2="43.57" stroke="#fff" stroke-width="0.35" opacity="0.3"/>
<line x1="0" x2="164.0" y1="67.47" y2="67.47" stroke="#fff" stroke-width="0.35" opacity="0.3"/>
<line x1="0" x2="164.0" y1="7.70" y2="7.70" stroke="#fff" stroke-width="0.8" opacity="0.34"/>
<line x1="0" x2="164.0" y1="31.61" y2="31.61" stroke="#fff" stroke-width="0.8" opacity="0.34"/>
<line x1="0" x2="164.0" y1="55.52" y2="55.52" stroke="#fff" stroke-width="0.8" opacity="0.34"/>
<line x1="0" x2="164.0" y1="79.43" y2="79.43" stroke="#fff" stroke-width="0.8" opacity="0.34"/>
<line y1="0" y2="91.2" x1="30.95" x2="30.95" stroke="#fff" stroke-width="0.7" opacity="0.45"/>
<line y1="0" y2="91.2" x1="81.95" x2="81.95" stroke="#fff" stroke-width="0.7" opacity="0.45"/>
<line y1="0" y2="91.2" x1="133.95" x2="133.95" stroke="#fff" stroke-width="0.7" opacity="0.45"/>
<text class="strip" transform="translate(81.85,-2.3) scale(1,1.1)">limonene</text>
<line x1="30.95" x2="30.95" y1="37.12" y2="51.62" stroke="#3a3a3a" stroke-width="0.47"/>
<line x1="30.95" x2="30.95" y1="63.31" y2="67.89" stroke="#3a3a3a" stroke-width="0.47"/>
<rect x="11.45" y="51.62" width="38.30" height="11.70" fill="#EE6F6D" stroke="#3a3a3a" stroke-width="0.5"/>
<line x1="11.45" x2="49.75" y1="60.26" y2="60.26" stroke="#2e2e2e" stroke-width="1.3"/>
<text class="lab" transform="translate(30.30,27.79) scale(1,1.18)">a</text>
<line x1="81.95" x2="81.95" y1="41.19" y2="47.29" stroke="#3a3a3a" stroke-width="0.47"/>
<line x1="81.95" x2="81.95" y1="63.57" y2="87.72" stroke="#3a3a3a" stroke-width="0.47"/>
<rect x="62.90" y="47.29" width="38.30" height="16.27" fill="#47D445" stroke="#3a3a3a" stroke-width="0.5"/>
<line x1="62.90" x2="101.20" y1="56.45" y2="56.45" stroke="#2e2e2e" stroke-width="1.3"/>
<text class="lab" transform="translate(81.75,31.86) scale(1,1.18)">a</text>
<line x1="133.95" x2="133.95" y1="41.19" y2="47.29" stroke="#3a3a3a" stroke-width="0.47"/>
<line x1="133.95" x2="133.95" y1="59.75" y2="60.51" stroke="#3a3a3a" stroke-width="0.47"/>
<rect x="114.35" y="47.29" width="38.30" height="12.46" fill="#6FA3FB" stroke="#3a3a3a" stroke-width="0.5"/>
<line x1="114.35" x2="152.65" y1="55.18" y2="55.18" stroke="#2e2e2e" stroke-width="1.3"/>
<text class="lab" transform="translate(133.20,31.86) scale(1,1.18)">a</text>
<line y1="91.2" y2="93.0" x1="30.60" x2="30.60" stroke="#333" stroke-width="0.5" opacity="0.6"/>
<text class="ax" text-anchor="middle" transform="translate(30.60,101.40) scale(1,1.1)">CALL</text>
<line y1="91.2" y2="93.0" x1="82.05" x2="82.05" stroke="#333" stroke-width="0.5" opacity="0.6"/>
<text class="ax" text-anchor="middle" transform="translate(82.05,101.40) scale(1,1.1)">CARS</text>
<line y1="91.2" y2="93.0" x1="133.50" x2="133.50" stroke="#333" stroke-width="0.5" opacity="0.6"/>
<text class="ax" text-anchor="middle" transform="translate(133.50,101.40) scale(1,1.1)">REDE</text>
</g>
<g transform="translate(519.90,227.00)">
<rect x="0" y="-12.00" width="164.0" height="12.0" fill="#d9d9d9"/>
<rect x="0" y="0" width="164.0" height="91.2" fill="#ebebeb"/>
<line x1="0" x2="164.0" y1="19.66" y2="19.66" stroke="#fff" stroke-width="0.35" opacity="0.3"/>
<line x1="0" x2="164.0" y1="43.57" y2="43.57" stroke="#fff" stroke-width="0.35" opacity="0.3"/>
<line x1="0" x2="164.0" y1="67.47" y2="67.47" stroke="#fff" stroke-width="0.35" opacity="0.3"/>
<line x1="0" x2="164.0" y1="7.70" y2="7.70" stroke="#fff" stroke-width="0.8" opacity="0.34"/>
<line x1="0" x2="164.0" y1="31.61" y2="31.61" stroke="#fff" stroke-width="0.8" opacity="0.34"/>
<line x1="0" x2="164.0" y1="55.52" y2="55.52" stroke="#fff" stroke-width="0.8" opacity="0.34"/>
<line x1="0" x2="164.0" y1="79.43" y2="79.43" stroke="#fff" stroke-width="0.8" opacity="0.34"/>
<line y1="0" y2="91.2" x1="30.60" x2="30.60" stroke="#fff" stroke-width="0.7" opacity="0.45"/>
<line y1="0" y2="91.2" x1="81.60" x2="81.60" stroke="#fff" stroke-width="0.7" opacity="0.45"/>
<line y1="0" y2="91.2" x1="133.60" x2="133.60" stroke="#fff" stroke-width="0.7" opacity="0.45"/>
<text class="strip" transform="translate(81.85,-2.3) scale(1,1.1)">total monoterpenes</text>
<line x1="30.60" x2="30.60" y1="46.28" y2="49.33" stroke="#3a3a3a" stroke-width="0.47"/>
<line x1="30.60" x2="30.60" y1="61.02" y2="68.65" stroke="#3a3a3a" stroke-width="0.47"/>
<rect x="11.45" y="49.33" width="38.30" height="11.70" fill="#EE6F6D" stroke="#3a3a3a" stroke-width="0.5"/>
<line x1="11.45" x2="49.75" y1="54.41" y2="54.41" stroke="#2e2e2e" stroke-width="1.3"/>
<circle cx="30.60" cy="25.43" r="1.05" fill="#111"/>
<text class="lab" transform="translate(30.30,16.09) scale(1,1.18)">a</text>
<line x1="81.60" x2="81.60" y1="43.99" y2="51.36" stroke="#3a3a3a" stroke-width="0.47"/>
<line x1="81.60" x2="81.60" y1="60.51" y2="61.53" stroke="#3a3a3a" stroke-width="0.47"/>
<rect x="62.90" y="51.36" width="38.30" height="9.15" fill="#47D445" stroke="#3a3a3a" stroke-width="0.5"/>
<line x1="62.90" x2="101.20" y1="58.23" y2="58.23" stroke="#2e2e2e" stroke-width="1.3"/>
<circle cx="82.05" cy="33.05" r="1.05" fill="#111"/>
<text class="lab" transform="translate(81.75,23.72) scale(1,1.18)">a</text>
<line x1="133.60" x2="133.60" y1="40.17" y2="47.80" stroke="#3a3a3a" stroke-width="0.47"/>
<line x1="133.60" x2="133.60" y1="63.82" y2="84.67" stroke="#3a3a3a" stroke-width="0.47"/>
<rect x="114.35" y="47.80" width="38.30" height="16.02" fill="#6FA3FB" stroke="#3a3a3a" stroke-width="0.5"/>
<line x1="114.35" x2="152.65" y1="55.18" y2="55.18" stroke="#2e2e2e" stroke-width="1.3"/>
<circle cx="133.50" cy="16.02" r="1.05" fill="#111"/>
<text class="lab" transform="translate(133.20,6.69) scale(1,1.18)">a</text>
<line y1="91.2" y2="93.0" x1="30.60" x2="30.60" stroke="#333" stroke-width="0.5" opacity="0.6"/>
<text class="ax" text-anchor="middle" transform="translate(30.60,101.40) scale(1,1.1)">CALL</text>
<line y1="91.2" y2="93.0" x1="82.05" x2="82.05" stroke="#333" stroke-width="0.5" opacity="0.6"/>
<text class="ax" text-anchor="middle" transform="translate(82.05,101.40) scale(1,1.1)">CARS</text>
<line y1="91.2" y2="93.0" x1="133.50" x2="133.50" stroke="#333" stroke-width="0.5" opacity="0.6"/>
<text class="ax" text-anchor="middle" transform="translate(133.50,101.40) scale(1,1.1)">REDE</text>
</g>
<text transform="translate(7.6,165.8) rotate(-90)" text-anchor="middle" style="font-size:9.2px;font-weight:bold;fill:#000">Prediction bias</text>
<text x="282.6" y="355.9" style="font-size:9.6px;font-weight:bold;fill:#000">site</text>
<rect x="304.20" y="348.2" width="8.8" height="8.8" fill="#f2f2f2"/>
<line x1="308.60" x2="308.60" y1="349" y2="356.2" stroke="#3a3a3a" stroke-width="0.5"/>
<rect x="305.30" y="350.2" width="6.6" height="4.9" fill="#EE6F6D" stroke="#3a3a3a" stroke-width="0.4"/>
<line x1="305.30" x2="311.90" y1="352.65" y2="352.65" stroke="#3a3a3a" stroke-width="0.6"/>
<text class="leg" transform="translate(317.80,355.7) scale(1,1.1)">CALL</text>
<rect x="342.40" y="348.2" width="8.8" height="8.8" fill="#f2f2f2"/>
<line x1="346.80" x2="346.80" y1="349" y2="356.2" stroke="#3a3a3a" stroke-width="0.5"/>
<rect x="343.50" y="350.2" width="6.6" height="4.9" fill="#47D445" stroke="#3a3a3a" stroke-width="0.4"/>
<line x1="343.50" x2="350.10" y1="352.65" y2="352.65" stroke="#3a3a3a" stroke-width="0.6"/>
<text class="leg" transform="translate(356.20,355.7) scale(1,1.1)">CARS</text>
<rect x="383.50" y="348.2" width="8.8" height="8.8" fill="#f2f2f2"/>
<line x1="387.90" x2="387.90" y1="349" y2="356.2" stroke="#3a3a3a" stroke-width="0.5"/>
<rect x="384.60" y="350.2" width="6.6" height="4.9" fill="#6FA3FB" stroke="#3a3a3a" stroke-width="0.4"/>
<line x1="384.60" x2="391.20" y1="352.65" y2="352.65" stroke="#3a3a3a" stroke-width="0.6"/>
<text class="leg" transform="translate(397.00,355.7) scale(1,1.1)">REDE</text>
</g></svg></body></html>
